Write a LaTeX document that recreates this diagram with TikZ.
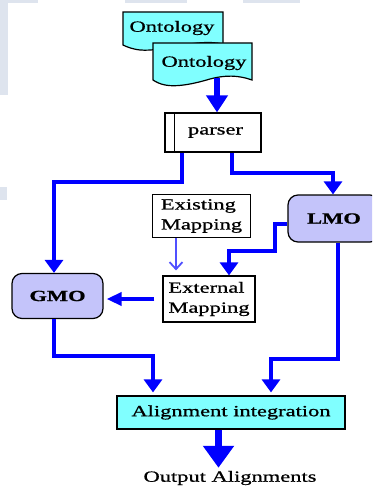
\documentclass[tikz,border=0pt]{standalone}
\usepackage{fontspec}
\setmainfont{Liberation Serif}[FakeStretch=1.45, FakeBold=0.8]
\usetikzlibrary{arrows.meta}

\definecolor{flowblue}{RGB}{0,0,255}
\definecolor{lightflow}{RGB}{80,80,255}
\definecolor{docfill}{RGB}{128,255,255}
\definecolor{modfill}{RGB}{196,196,250}
\definecolor{slide}{RGB}{222,228,238}

\tikzset{
  txt/.style={font=\fontsize{15.5}{19}\selectfont, inner sep=0pt},
  plainbox/.style={txt, draw, line width=1.2pt, fill=white, inner sep=2pt},
  module/.style={txt, font=\fontsize{15.5}{19}\selectfont\bfseries, draw,
    line width=1.2pt, rounded corners=10pt, fill=modfill, inner sep=2pt},
  docshape/.style={draw, line width=1.2pt, fill=docfill},
  flow/.style={draw=flowblue, line width=4pt,
    -{Triangle[width=18pt,length=13pt]}},
  hint/.style={draw=lightflow, line width=1.8pt,
    -{Straight Barb[width=13pt,length=7pt]}},
}

\begin{document}
\begin{tikzpicture}[x=1pt,y=-1pt]
\useasboundingbox (0,0) rectangle (372,486);
\clip (0,0) rectangle (372,486);

% faint slide background strips
\fill[slide] (0,0) rectangle (38,3);
\fill[slide] (125,0) rectangle (187,3);
\fill[slide] (243,0) rectangle (300,3);
\fill[slide] (0,3) rectangle (8,95);
\fill[slide] (0,187) rectangle (7,200);

% stacked ontology documents
\path[docshape] (123,12) -- (223,12) -- (223,44)
  .. controls (195,38) and (165,52) .. (140,50)
  .. controls (132,49) and (127,47) .. (123,45) -- cycle;
\node[txt] (ont1) at (172,28) {Ontology};
\path[docshape] (153,43) -- (252,43) -- (252,80)
  .. controls (238,75) and (225,75) .. (210,79)
  .. controls (190,85) and (175,87) .. (165,85)
  .. controls (160,84) and (156,82) .. (153,80) -- cycle;
\node[txt, minimum height=30pt] (ont2) at (204,63) {Ontology};

% processing boxes
\node[plainbox, minimum width=96pt, minimum height=39pt] (parser)
  at (213,132.5) {\hspace*{5pt}parser};
\draw[line width=1.2pt] ([xshift=10pt]parser.north west)
  -- ([xshift=10pt]parser.south west);

\node[module, minimum width=92pt, minimum height=47pt] (lmo)
  at (334,218.5) {LMO};
\node[module, minimum width=91pt, minimum height=45pt] (gmo)
  at (57.5,296) {GMO};

\node[plainbox, minimum width=98pt, minimum height=43pt, align=left,
  font=\fontsize{15.5}{20}\selectfont] (exist) at (201.5,216) {Existing\\Mapping};
\node[plainbox, minimum width=92pt, minimum height=46pt, align=left,
  font=\fontsize{15.5}{20}\selectfont] (ext) at (209,299) {External\\Mapping};

\node[plainbox, fill=docfill, minimum width=228pt, minimum height=33pt]
  (align) at (231,412.5) {Alignment integration};
\node[txt] (out) at (230,478) {Output Alignments};

% connectors
\draw[flow, line width=6pt, -{Triangle[width=21pt,length=17pt]}]
  ([xshift=13pt]ont2.south) -- ([xshift=13pt]ont2.south |- parser.north);

\draw[flow] ([xshift=-31pt]parser.south) -- ++(0,29)
  -| ([xshift=-3.5pt]gmo.north);
\draw[flow] ([xshift=19pt]parser.south) -- ++(0,20)
  -| ([xshift=-1pt]lmo.north);

\draw[flow] ([yshift=-5.5pt]lmo.west) -- ++(-12,0) -- ++(0,27)
  -| ([xshift=20pt]ext.north);

\draw[hint, shorten >=5pt] ([xshift=-25.5pt]exist.south)
  -- ([xshift=-25.5pt]exist.south |- ext.north);

\draw[flow, line width=3.5pt, -{Triangle[width=13pt,length=15pt]},
  shorten <=8pt, shorten >=3pt] (ext.west) -- (gmo.east |- ext.west);

\draw[flow, shorten >=3pt] ([xshift=-3.5pt]gmo.south) -- ++(0,37)
  -| ([xshift=-78pt]align.north);
\draw[flow, shorten >=3pt] ([xshift=4pt]lmo.south) -- ++(0,116)
  -| ([xshift=40pt]align.north);

\draw[flow, line width=7pt, -{Triangle[width=30pt,length=22pt]},
  shorten >=3pt] ([xshift=-12.5pt]align.south)
  -- ([xshift=-12.5pt]align.south |- out.north);
\end{tikzpicture}
\end{document}
